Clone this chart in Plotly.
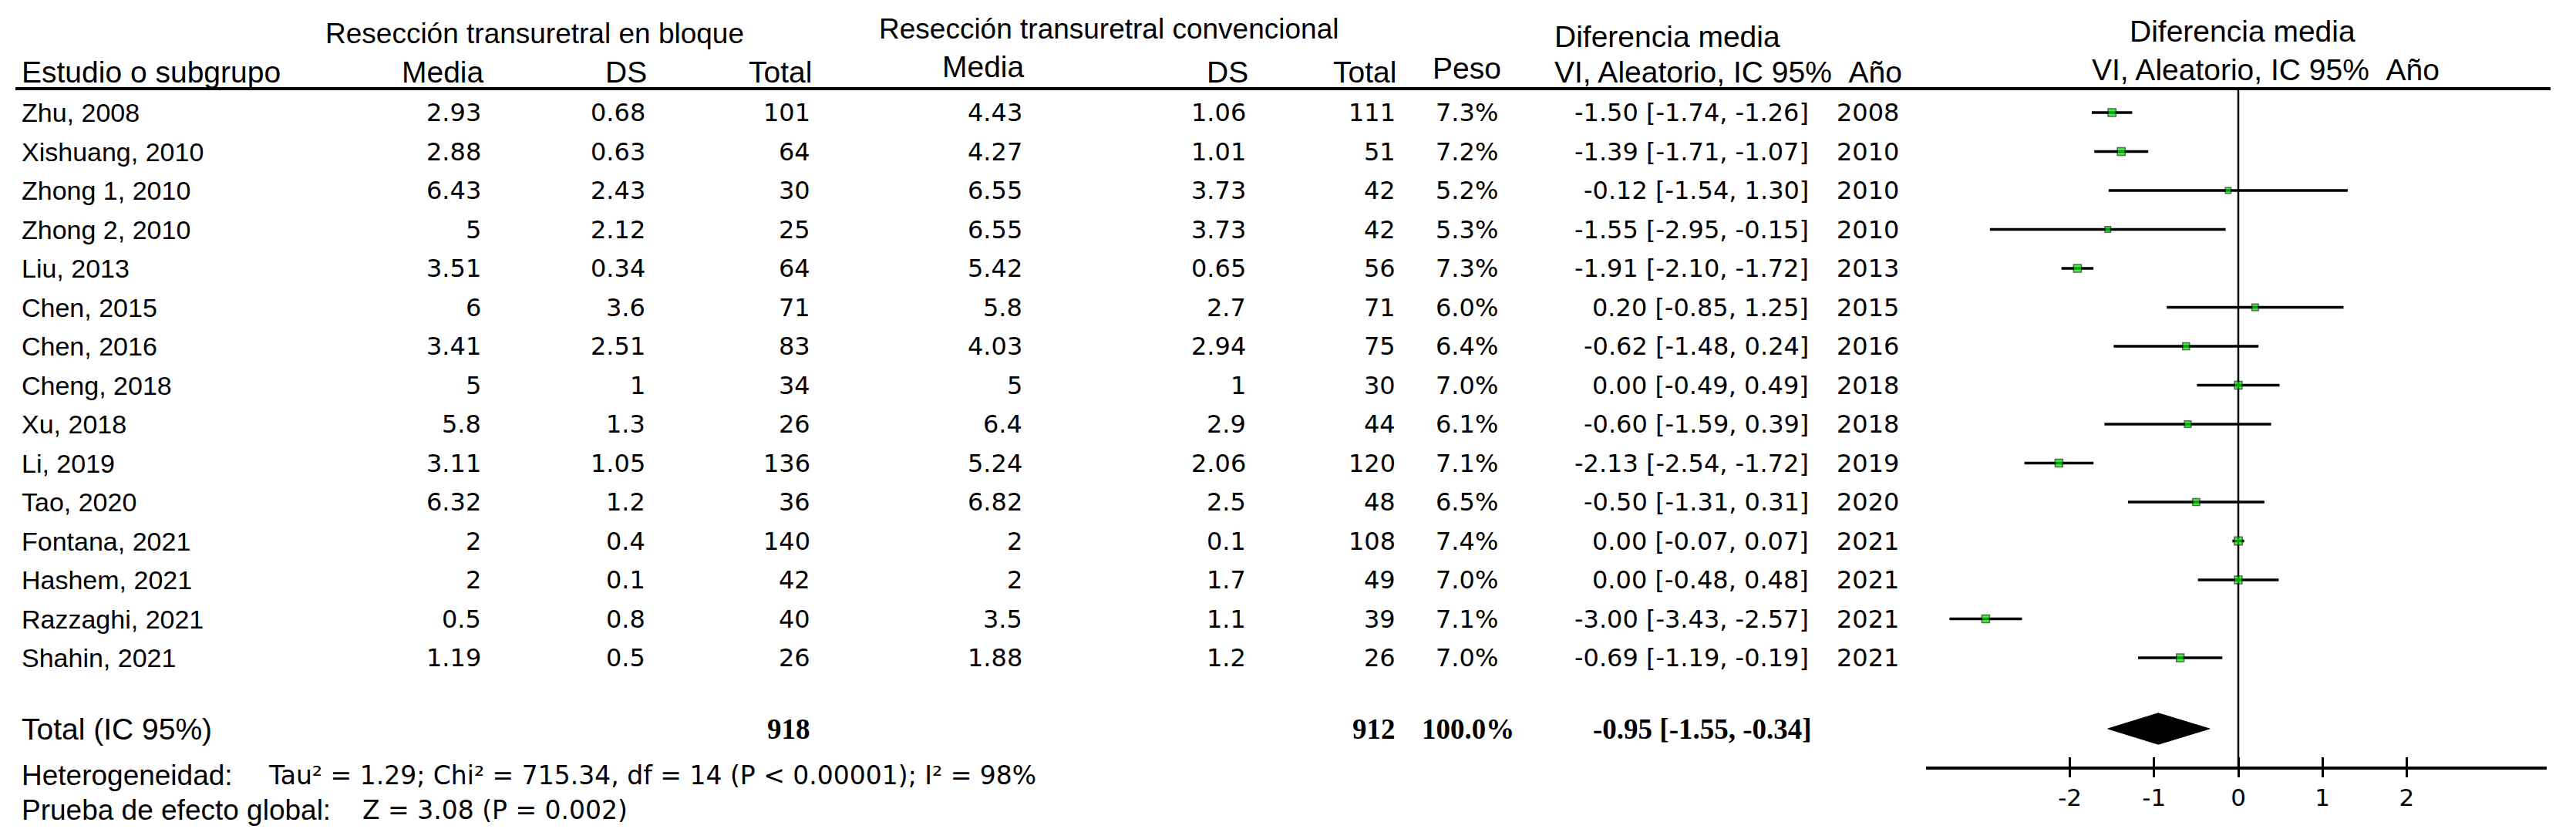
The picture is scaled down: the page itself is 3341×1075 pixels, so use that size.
import plotly.graph_objects as go

# ---------------- data ----------------
studies = ["Zhu, 2008", "Xishuang, 2010", "Zhong 1, 2010", "Zhong 2, 2010", "Liu, 2013",
           "Chen, 2015", "Chen, 2016", "Cheng, 2018", "Xu, 2018", "Li, 2019", "Tao, 2020",
           "Fontana, 2021", "Hashem, 2021", "Razzaghi, 2021", "Shahin, 2021"]
mean_bloque = [2.93, 2.88, 6.43, 5, 3.51, 6, 3.41, 5, 5.8, 3.11, 6.32, 2, 2, 0.5, 1.19]
sd_bloque = [0.68, 0.63, 2.43, 2.12, 0.34, 3.6, 2.51, 1, 1.3, 1.05, 1.2, 0.4, 0.1, 0.8, 0.5]
n_bloque = [101, 64, 30, 25, 64, 71, 83, 34, 26, 136, 36, 140, 42, 40, 26]
mean_conv = [4.43, 4.27, 6.55, 6.55, 5.42, 5.8, 4.03, 5, 6.4, 5.24, 6.82, 2, 2, 3.5, 1.88]
sd_conv = [1.06, 1.01, 3.73, 3.73, 0.65, 2.7, 2.94, 1, 2.9, 2.06, 2.5, 0.1, 1.7, 1.1, 1.2]
n_conv = [111, 51, 42, 42, 56, 71, 75, 30, 44, 120, 48, 108, 49, 39, 26]
peso = [7.3, 7.2, 5.2, 5.3, 7.3, 6.0, 6.4, 7.0, 6.1, 7.1, 6.5, 7.4, 7.0, 7.1, 7.0]
md = [-1.50, -1.39, -0.12, -1.55, -1.91, 0.20, -0.62, 0.00, -0.60, -2.13, -0.50, 0.00, 0.00, -3.00, -0.69]
ci_lo = [-1.74, -1.71, -1.54, -2.95, -2.10, -0.85, -1.48, -0.49, -1.59, -2.54, -1.31, -0.07, -0.48, -3.43, -1.19]
ci_hi = [-1.26, -1.07, 1.30, -0.15, -1.72, 1.25, 0.24, 0.49, 0.39, -1.72, 0.31, 0.07, 0.48, -2.57, -0.19]
years = [2008, 2010, 2010, 2010, 2013, 2015, 2016, 2018, 2018, 2019, 2020, 2021, 2021, 2021, 2021]

total_n_bloque = 918
total_n_conv = 912
total_peso = "100.0%"
total_md, total_lo, total_hi = -0.95, -1.55, -0.34
heterogeneidad = "Tau² = 1.29; Chi² = 715.34, df = 14 (P &lt; 0.00001); I² = 98%"
efecto_global = "Z = 3.08 (P = 0.002)"
tick_vals = [-2, -1, 0, 1, 2]
tick_text = ["-2", "-1", "0", "1", "2"]

# ---------------- layout geometry (pixels) ----------------
W, H = 3341, 1075
ROW0, ROWH = 138, 50.5          # pixel y of first row, row spacing


def yr(py):  # pixel y -> row units
    return (py - ROW0) / ROWH


def xp(px):  # pixel x -> paper
    return px / W


HFONT = "Liberation Sans, Arial, sans-serif"
BFONT = "DejaVu Sans, Verdana, sans-serif"
SERIF = "Liberation Serif, Times New Roman, serif"
NUM = 32
LAB = 34
HEAD = 39

ZERO_PX = 2895
UNIT_PX = 109.2
AX_L, AX_R = 2490, 3295
x_range = [(AX_L - ZERO_PX) / UNIT_PX, (AX_R - ZERO_PX) / UNIT_PX]
AXIS_Y = 988
RULE_Y = 107

fig = go.Figure()

rows = list(range(len(studies)))

# CI lines + markers
fig.add_trace(go.Scatter(
    x=md, y=rows, mode="markers",
    marker=dict(symbol="square", size=[w * 1.4 for w in peso], color="#00e600",
                line=dict(color="#003300", width=1.5)),
    error_x=dict(type="data", symmetric=False,
                 array=[h - m for h, m in zip(ci_hi, md)],
                 arrayminus=[m - l for m, l in zip(md, ci_lo)],
                 thickness=3.5, width=0, color="black"),
    xaxis="x", yaxis="y", showlegend=False, hoverinfo="skip"))

# total diamond
ty = yr(937)
dh = 0.40
fig.add_trace(go.Scatter(
    x=[total_lo, total_md, total_hi, total_md, total_lo],
    y=[ty, ty - dh, ty, ty + dh, ty],
    mode="lines", fill="toself", fillcolor="black",
    line=dict(color="black", width=1), xaxis="x", yaxis="y",
    showlegend=False, hoverinfo="skip"))

# invisible trace for the crossing-tick overlay axis
fig.add_trace(go.Scatter(x=[0], y=[ty], mode="markers", marker=dict(opacity=0),
                         xaxis="x2", yaxis="y", showlegend=False, hoverinfo="skip"))

ann = []


def txt(x_px, y_row, s, anchor="right", size=NUM, family=BFONT, bold=False):
    if bold:
        s = "<b>" + s + "</b>"
    ann.append(dict(x=xp(x_px), y=y_row, xref="paper", yref="y", text=s,
                    showarrow=False, xanchor=anchor, yanchor="middle",
                    borderpad=0, borderwidth=0,
                    font=dict(size=size, family=family, color="black")))


# column right edges (pixels)
C_STUDY = 20
C_M1, C_SD1, C_N1 = 616, 829, 1043
C_M2, C_SD2, C_N2 = 1318, 1608, 1802
C_PESO, C_CI, C_YR = 1935, 2338, 2455

for i in rows:
    txt(C_STUDY, i, studies[i], anchor="left", size=LAB, family=HFONT)
    txt(C_M1, i, str(mean_bloque[i]))
    txt(C_SD1, i, str(sd_bloque[i]))
    txt(C_N1, i, str(n_bloque[i]))
    txt(C_M2, i, str(mean_conv[i]))
    txt(C_SD2, i, str(sd_conv[i]))
    txt(C_N2, i, str(n_conv[i]))
    txt(C_PESO, i, f"{peso[i]:.1f}%")
    txt(C_CI, i, f"{md[i]:.2f} [{ci_lo[i]:.2f}, {ci_hi[i]:.2f}]")
    txt(C_YR, i, str(years[i]))

# headers
h2 = yr(85)
txt(685, yr(35), "Resección transuretral en bloque", anchor="center", size=37, family=HFONT)
txt(1430, yr(29), "Resección transuretral convencional", anchor="center", size=37, family=HFONT)
txt(C_STUDY, h2, "Estudio o subgrupo", anchor="left", size=HEAD, family=HFONT)
txt(C_M1 + 4, h2, "Media", size=HEAD, family=HFONT)
txt(C_SD1 + 2, h2, "DS", size=HEAD, family=HFONT)
txt(C_N1 + 2, h2, "Total", size=HEAD, family=HFONT)
txt(C_M2 + 3, yr(78), "Media", size=HEAD, family=HFONT)
txt(C_SD2 + 3, h2, "DS", size=HEAD, family=HFONT)
txt(C_N2 + 1, h2, "Total", size=HEAD, family=HFONT)
txt(C_PESO + 4, yr(80), "Peso", size=HEAD, family=HFONT)
txt(2008, yr(39), "Diferencia media", anchor="left", size=HEAD, family=HFONT)
txt(2008, h2, "VI, Aleatorio, IC 95%\u00a0\u00a0Año", anchor="left", size=HEAD, family=HFONT)
txt(2900, yr(32), "Diferencia media", anchor="center", size=HEAD, family=HFONT)
txt(2930, yr(82), "VI, Aleatorio, IC 95%\u00a0\u00a0Año", anchor="center", size=HEAD, family=HFONT)

# total row
txt(C_STUDY, ty, "Total (IC 95%)", anchor="left", size=HEAD, family=HFONT)
txt(C_N1, ty, str(total_n_bloque), family=SERIF, size=37, bold=True)
txt(C_N2, ty, str(total_n_conv), family=SERIF, size=37, bold=True)
txt(1956, ty, total_peso, family=SERIF, size=37, bold=True)
txt(2342, ty, f"{total_md:.2f} [{total_lo:.2f}, {total_hi:.2f}]", family=SERIF, size=37, bold=True)

# heterogeneity / overall effect
txt(C_STUDY, yr(997), "Heterogeneidad:", anchor="left", size=37, family=HFONT)
txt(340, yr(997), heterogeneidad, anchor="left", size=33)
txt(C_STUDY, yr(1042), "Prueba de efecto global:", anchor="left", size=37, family=HFONT)
txt(462, yr(1042), efecto_global, anchor="left", size=33)

shapes = [
    dict(type="line", xref="paper", yref="y", x0=xp(12), x1=xp(3300),
         y0=yr(RULE_Y), y1=yr(RULE_Y), line=dict(color="black", width=4)),
    dict(type="line", xref="x", yref="y", x0=0, x1=0,
         y0=yr(RULE_Y), y1=yr(AXIS_Y), line=dict(color="black", width=2.5), layer="below"),
]

dom = [xp(AX_L), xp(AX_R)]
pos = 1 - AXIS_Y / H

fig.update_layout(
    width=W, height=H, margin=dict(l=0, r=0, t=0, b=0),
    paper_bgcolor="white", plot_bgcolor="white",
    annotations=ann, shapes=shapes, showlegend=False,
    xaxis=dict(domain=dom, range=x_range, anchor="free", position=pos,
               showgrid=False, zeroline=False, showline=True, linecolor="black", linewidth=4,
               ticks="outside", ticklen=10, tickwidth=2.5, tickcolor="black",
               tickvals=tick_vals, ticktext=tick_text,
               tickfont=dict(size=31, family=BFONT, color="black")),
    xaxis2=dict(domain=dom, range=x_range, anchor="free", position=pos, overlaying="x",
                showgrid=False, zeroline=False, showline=False,
                ticks="inside", ticklen=14, tickwidth=2.5, tickcolor="black",
                tickvals=tick_vals, showticklabels=False),
    yaxis=dict(domain=[0, 1], range=[yr(H), yr(0)], visible=False, showgrid=False,
               zeroline=False, fixedrange=True),
)

fig.write_html("out.html")
